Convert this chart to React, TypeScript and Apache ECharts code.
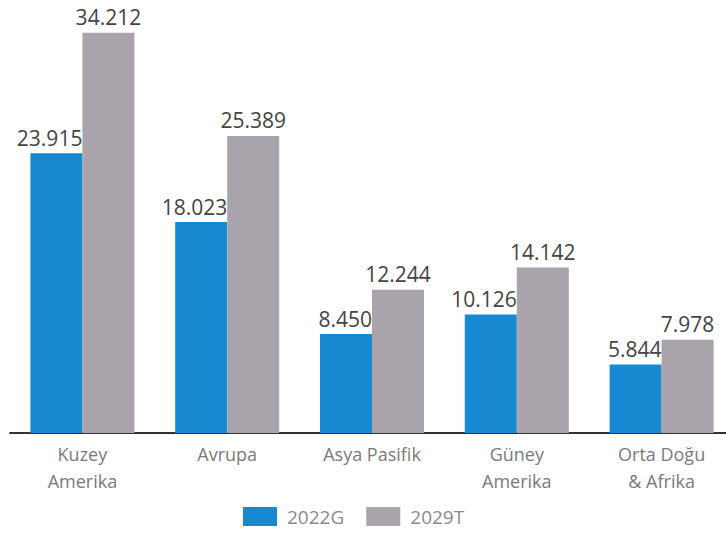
import React, { useEffect, useRef } from "react";
import * as echarts from "echarts";

const categories = ["Kuzey\nAmerika", "Avrupa", "Asya Pasifik", "Güney\nAmerika", "Orta Doğu\n& Afrika"];
const values2022 = [23.915, 18.023, 8.45, 10.126, 5.844];
const values2029 = [34.212, 25.389, 12.244, 14.142, 7.978];
const seriesNames = ["2022G", "2029T"];

const fmt = (v: number) => v.toFixed(3);

export default function App() {
  const ref = useRef<HTMLDivElement>(null);
  useEffect(() => {
    if (!ref.current) return;
    const chart = echarts.init(ref.current, undefined, { renderer: "svg" });
    const font = "'Open Sans', 'Noto Sans', sans-serif";
    chart.setOption({
      animation: false,
      backgroundColor: "#ffffff",
      grid: { left: 10, right: 0, top: 0, bottom: 103, containLabel: false },
      legend: {
        left: 243,
        top: 507,
        padding: 0,
        itemWidth: 34,
        itemHeight: 19,
        itemGap: 22,
        icon: "rect",
        textStyle: { fontFamily: font, fontSize: 19, color: "#8a8a8a", padding: [0, 0, 0, 5] },
        data: seriesNames,
      },
      xAxis: {
        type: "category",
        data: categories,
        axisLine: { lineStyle: { color: "#333333", width: 2 } },
        axisTick: { show: false },
        axisLabel: {
          fontFamily: font,
          fontSize: 18,
          lineHeight: 27,
          color: "#7a7a7a",
          margin: 7,
          interval: 0,
        },
      },
      yAxis: {
        type: "value",
        min: 0,
        max: 37,
        show: false,
        splitLine: { show: false },
      },
      series: [
        {
          name: seriesNames[0],
          type: "bar",
          data: values2022,
          barWidth: 52,
          barGap: "0%",
          itemStyle: { color: "#1888d0" },
          label: {
            show: true,
            position: "top",
            align: "right",
            offset: [26, 0],
            fontFamily: font,
            fontSize: 21,
            color: "#444444",
            formatter: (p: any) => fmt(p.value),
          },
        },
        {
          name: seriesNames[1],
          type: "bar",
          data: values2029,
          barWidth: 52,
          barGap: "0%",
          itemStyle: { color: "#a9a4ab" },
          label: {
            show: true,
            position: "top",
            fontFamily: font,
            fontSize: 21,
            color: "#444444",
            formatter: (p: any) => fmt(p.value),
          },
        },
      ],
    });
    return () => chart.dispose();
  }, []);
  return (
    <div style={{ position: "absolute", left: 0, top: 0, width: 726, height: 536, overflow: "hidden" }}>
      <div ref={ref} style={{ width: 734, height: 536 }} />
    </div>
  );
}
